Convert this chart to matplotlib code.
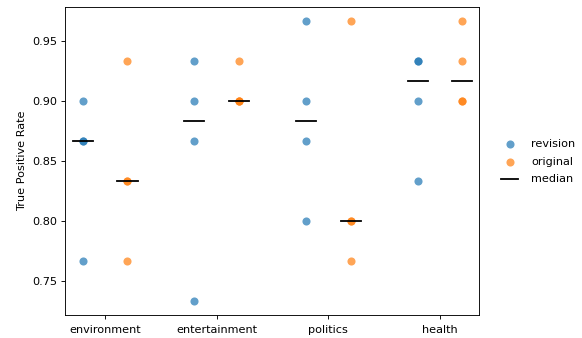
import matplotlib
matplotlib.use("Agg")
import matplotlib.pyplot as plt
import numpy as np

categories = ["environment", "entertainment", "politics", "health"]
revision = [
    [0.9, 0.8667, 0.8667, 0.7667],
    [0.9333, 0.9, 0.8667, 0.7333],
    [0.9667, 0.9, 0.8667, 0.8],
    [0.9333, 0.9333, 0.9, 0.8333],
]
original = [
    [0.9333, 0.8333, 0.8333, 0.7667],
    [0.9333, 0.9, 0.9, 0.9],
    [0.9667, 0.8, 0.8, 0.7667],
    [0.9667, 0.9333, 0.9, 0.9],
]

s = 0.81
plt.rcParams.update({
    "font.size": 10 * s,
    "axes.linewidth": 0.8 * s,
    "xtick.major.size": 3.5 * s,
    "ytick.major.size": 3.5 * s,
    "xtick.major.width": 0.8 * s,
    "ytick.major.width": 0.8 * s,
    "xtick.major.pad": 4.5,
    "ytick.major.pad": 3.5 * s,
})

fig = plt.figure(figsize=(5.82, 3.38), dpi=100)
ax = fig.add_axes([65/582, 1-315/338, (479-65)/582, (315-7)/338])

off = 0.2
for i, (r, o) in enumerate(zip(revision, original)):
    ax.scatter([i - off] * len(r), r, s=34, color="#1f77b4", alpha=0.7,
               linewidths=0, label="revision" if i == 0 else None)
    ax.scatter([i + off] * len(o), o, s=34, color="#ff7f0e", alpha=0.7,
               linewidths=0, label="original" if i == 0 else None)
    mr, mo = np.median(r), np.median(o)
    ax.plot([i - off - 0.09, i - off + 0.09], [mr, mr], color="black", lw=1.3,
            label="median" if i == 0 else None)
    ax.plot([i + off - 0.09, i + off + 0.09], [mo, mo], color="black", lw=1.3)

ax.set_xlim(-0.36, 3.35)
ax.set_xticks(range(len(categories)))
ax.set_xticklabels(categories)
ax.set_ylabel("True Positive Rate")
ax.set_yticks([0.75, 0.80, 0.85, 0.90, 0.95])
fig.legend(loc="center left", bbox_to_anchor=(0.8436, 0.522), frameon=False,
           handlelength=1.5, handletextpad=1.2, labelspacing=0.7)
fig.savefig("out.png", dpi=100)
